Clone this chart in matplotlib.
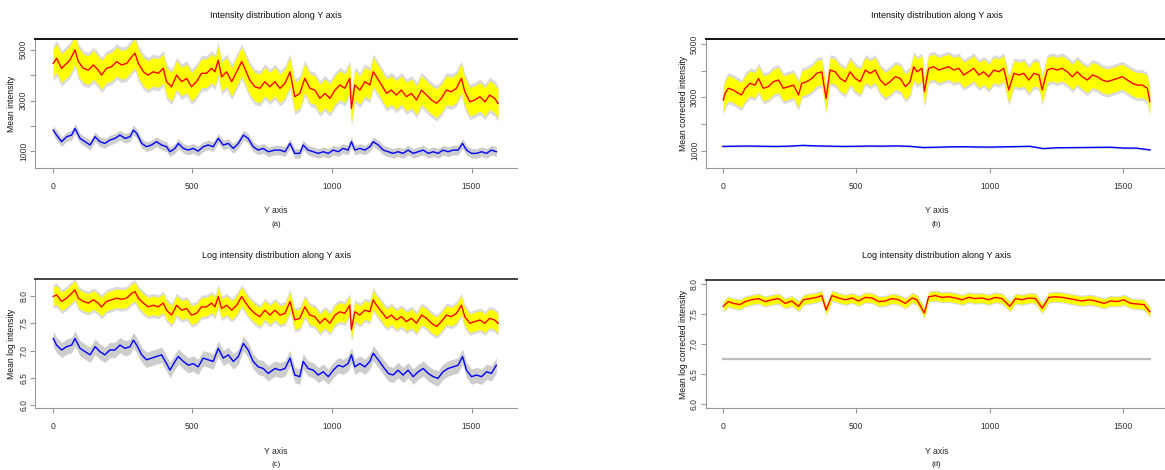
import numpy as np
import matplotlib
matplotlib.use("Agg")
import matplotlib.pyplot as plt

plt.rcParams['font.family'] = ['Liberation Sans Narrow', 'Liberation Sans', 'DejaVu Sans']

# ---------------- data ----------------
# Panel (a): raw intensity
a_red_x = [2, 14, 32, 50, 62, 80, 92, 110, 128, 146, 163, 175, 193, 211, 229, 247, 265, 283, 295, 307,
           325, 342, 360, 378, 396, 408, 426, 444, 462, 480, 497, 515, 533, 551, 569, 581, 593, 605, 623, 641,
           659, 677, 688, 706, 724, 742, 760, 778,
           796, 814, 832, 850, 867, 885, 903, 921, 939, 957, 975, 993, 1011, 1029, 1046, 1064, 1070, 1082, 1100, 1118,
           1136, 1148, 1160, 1178, 1196, 1213, 1231, 1249, 1267, 1285, 1303, 1321, 1339, 1357, 1375, 1392, 1410, 1428,
           1446, 1464, 1476, 1494, 1512, 1530, 1548, 1565, 1583, 1595]
a_red = [4460, 4660, 4265, 4460, 4590, 4990, 4530, 4265, 4200, 4400, 4200, 4000, 4265, 4330, 4530, 4400, 4460, 4720, 4860, 4460,
         4130, 4000, 4130, 4070, 4265, 3740, 3540, 4000, 3740, 3870, 3540, 3740, 4070, 4070, 4265, 4130, 4590, 3930, 4130, 3740,
         4130, 4530, 4265, 3800, 3540, 3480, 3740, 3540,
         3740, 3480, 3675, 4130, 3150, 3280, 3870, 3480, 3410, 3085, 3280, 3085, 3410, 3610, 3480, 3870, 2690, 3610, 3410, 3740,
         3610, 4130, 3930, 3610, 3280, 3410, 3215, 3410, 3150, 3280, 3020, 3410, 3215, 3020, 2890, 3085, 3410, 3345,
         3480, 3870, 3345, 2950, 3020, 3150, 2950, 3215, 3085, 2890]
a_blue_x = [2, 14, 32, 50, 68, 80, 98, 116, 134, 152, 169, 187, 205, 223, 241, 259, 277, 289, 301, 319,
            336, 354, 372, 390, 408, 420, 438, 450, 468, 486, 503, 521, 539, 557, 575, 593, 611, 629, 647, 665,
            683, 700, 718, 736, 754, 772, 796,
            814, 832, 850, 867, 885, 897, 915, 933, 951, 969, 987, 1005, 1023, 1040, 1058, 1070, 1082, 1100, 1118, 1136,
            1148, 1166, 1184, 1202, 1219, 1237, 1255, 1273, 1291, 1309, 1327, 1345, 1363, 1380, 1398, 1416, 1434, 1452,
            1468, 1482, 1500, 1518, 1536, 1554, 1571, 1589]
a_blue = [1838, 1640, 1380, 1575, 1640, 1900, 1510, 1380, 1250, 1575, 1380, 1313, 1445, 1510, 1640, 1510, 1575, 1838, 1707, 1313,
          1182, 1250, 1380, 1250, 1182, 985, 1116, 1313, 1116, 1050, 1116, 1010, 1182, 1250, 1182, 1510, 1250, 1313, 1116, 1313,
          1640, 1510, 1182, 1050, 1116, 985, 1050,
          1050, 985, 1313, 920, 920, 1250, 1050, 985, 920, 985, 920, 1050, 985, 1116, 1050, 1380, 1050, 1116, 1050, 1182,
          1380, 1250, 1050, 985, 920, 985, 920, 1050, 920, 985, 1050, 920, 985, 920, 1050, 985, 1050, 1050,
          1313, 1050, 920, 920, 985, 920, 1050, 985]

# Panel (b): corrected intensity
b_red_x = [2, 9, 21, 40, 59, 71, 84, 102, 121, 134, 152, 171, 190, 209, 227, 246, 265, 284, 296, 315,
           334, 352, 371, 387, 402, 421, 440, 459, 477, 496, 515, 534, 552, 571, 590, 609, 627, 646, 665, 684,
           702, 715, 727, 746, 755, 771, 790, 809, 827, 846, 865, 884, 902, 921, 940, 959, 977, 996, 1015, 1034,
           1052, 1071, 1090, 1109, 1127, 1146, 1165, 1184, 1196, 1215, 1234, 1252, 1271, 1290, 1309, 1327, 1346, 1365,
           1384, 1402, 1421, 1440, 1459, 1477, 1496, 1515, 1534, 1552, 1571, 1590, 1599]
b_red = [2900, 3150, 3340, 3275, 3150, 3090, 3340, 3525, 3460, 3710, 3340, 3400, 3590, 3650, 3340, 3400, 3460, 3090, 3525, 3590,
         3710, 3900, 3960, 2960, 4025, 3960, 3710, 3590, 3960, 3710, 3590, 4025, 3900, 4025, 3650, 3460, 3590, 3775, 3710, 3400,
         3590, 4150, 3960, 4090, 3210, 4090, 4150, 4025, 4090, 4150, 4025, 4090, 3840, 3960, 4090, 3840, 3960, 3775, 4025, 3960,
         4090, 3275, 3900, 3840, 3900, 3650, 3900, 3840, 3275, 4025, 4090, 4025, 4090, 3960, 3775, 3960, 3775, 3650,
         3840, 3775, 3650, 3590, 3650, 3710, 3775, 3650, 3525, 3460, 3460, 3340, 2840]
b_blue_x = [0, 50, 100, 150, 200, 250, 300, 350, 400, 450, 500, 550, 600, 650, 700, 750, 800, 850, 900, 950,
            1000, 1050, 1100, 1150, 1200, 1250, 1300, 1350, 1400, 1450, 1500, 1550, 1600]
b_blue = [1160, 1170, 1175, 1165, 1160, 1170, 1200, 1180, 1170, 1160, 1165, 1175, 1170, 1180, 1165, 1120, 1130, 1145, 1150, 1140,
          1135, 1145, 1155, 1165, 1080, 1110, 1115, 1120, 1125, 1130, 1100, 1095, 1030]

# Panel (c): log intensity
c_red_x = a_red_x
c_red = [7.99, 8.02, 7.90, 7.96, 8.02, 8.11, 7.96, 7.90, 7.87, 7.93, 7.87, 7.80, 7.90, 7.93, 7.96, 7.94, 7.96, 8.05, 8.08, 7.96,
         7.87, 7.80, 7.83, 7.80, 7.87, 7.74, 7.65, 7.83, 7.74, 7.77, 7.65, 7.68, 7.80, 7.80, 7.87, 7.80, 7.99, 7.77, 7.83, 7.74,
         7.83, 7.99, 7.90, 7.77, 7.68, 7.62, 7.74, 7.65,
         7.74, 7.65, 7.68, 7.90, 7.56, 7.59, 7.80, 7.65, 7.62, 7.50, 7.59, 7.50, 7.65, 7.71, 7.68, 7.83, 7.38, 7.71, 7.65, 7.74,
         7.71, 7.93, 7.83, 7.71, 7.59, 7.65, 7.56, 7.62, 7.53, 7.59, 7.50, 7.65, 7.59, 7.50, 7.44, 7.53, 7.65, 7.62,
         7.68, 7.83, 7.62, 7.50, 7.53, 7.56, 7.50, 7.59, 7.56, 7.50]
c_blue_x = a_blue_x
c_blue = [7.22, 7.10, 7.01, 7.07, 7.10, 7.22, 7.04, 6.98, 6.92, 7.07, 6.98, 6.92, 7.01, 7.01, 7.10, 7.04, 7.07, 7.19, 7.10, 6.92,
          6.83, 6.86, 6.89, 6.92, 6.76, 6.64, 6.80, 6.89, 6.80, 6.73, 6.76, 6.70, 6.86, 6.83, 6.80, 7.04, 6.86, 6.92, 6.80, 6.89,
          7.13, 7.01, 6.80, 6.70, 6.67, 6.58, 6.67,
          6.64, 6.67, 6.86, 6.55, 6.52, 6.80, 6.67, 6.64, 6.55, 6.61, 6.52, 6.64, 6.73, 6.70, 6.76, 6.92, 6.70, 6.76, 6.70, 6.80,
          6.95, 6.83, 6.70, 6.58, 6.55, 6.64, 6.55, 6.64, 6.52, 6.61, 6.67, 6.58, 6.52, 6.49, 6.61, 6.67, 6.70, 6.73,
          6.89, 6.64, 6.52, 6.55, 6.52, 6.61, 6.58, 6.73]

# Panel (d): log corrected intensity
d_red_x = [2, 21, 40, 65, 84, 109, 134, 159, 184, 209, 234, 259, 284, 302, 327, 352, 371, 387, 409, 434,
           459, 484, 509, 534, 559, 584, 609, 634, 659, 684, 709, 727, 755, 771, 796, 821, 846, 871, 896, 921,
           946, 971, 996, 1021, 1046, 1075, 1096, 1121, 1146, 1171, 1196, 1221, 1246, 1271, 1296, 1321, 1346, 1371,
           1396, 1428, 1452, 1477, 1502, 1527, 1552, 1577, 1599]
d_red = [7.63, 7.71, 7.68, 7.66, 7.71, 7.74, 7.76, 7.71, 7.74, 7.76, 7.68, 7.72, 7.63, 7.74, 7.76, 7.78, 7.81, 7.57, 7.81, 7.77,
         7.74, 7.77, 7.72, 7.78, 7.77, 7.71, 7.72, 7.76, 7.74, 7.68, 7.77, 7.74, 7.52, 7.79, 7.81, 7.78, 7.79, 7.77, 7.74, 7.78,
         7.76, 7.77, 7.74, 7.78, 7.76, 7.63, 7.76, 7.74, 7.77, 7.76, 7.60, 7.78, 7.79, 7.78, 7.76, 7.74, 7.72, 7.74,
         7.72, 7.68, 7.72, 7.71, 7.74, 7.68, 7.67, 7.66, 7.54]
d_blue_x = [0, 1600]
d_blue = [6.76, 6.76]

# spreads (half widths) of the bands
spread_yellow = {'a': 560, 'b': 470, 'c': 0.17, 'd': 0.075}
spread_gray_up = {'a': 700, 'b': 580, 'c': 0.22, 'd': 0.095}
spread_gray_low = {'a': 190, 'b': 35, 'c': 0.14, 'd': 0.0}

titles = ["Intensity distribution along Y axis", "Intensity distribution along Y axis",
          "Log intensity distribution along Y axis", "Log intensity distribution along Y axis"]
ylabels = ["Mean intensity", "Mean corrected intensity", "Mean log intensity", "Mean log corrected intensity"]
sublabels = ["(a)", "(b)", "(c)", "(d)"]
xticks = [0, 500, 1000, 1500]
yticks_raw = [1000, 2000, 3000, 4000, 5000]
yticklabels_raw = ["1000", "", "3000", "", "5000"]
yticks_log = [6.0, 6.5, 7.0, 7.5, 8.0]
yticklabels_log = ["6.0", "6.5", "7.0", "7.5", "8.0"]

# ---------------- figure ----------------
W, H = 1165, 470
fig = plt.figure(figsize=(W / 100, H / 100), dpi=100)

def px_axes(l, r, t, b):
    return fig.add_axes([l / W, 1 - b / H, (r - l) / W, (b - t) / H])

boxes = {'a': (34.8, 517.3, 39, 168), 'b': (705.6, 1167.2, 39, 168),
         'c': (34.8, 517.3, 279.3, 408.3), 'd': (705.6, 1167.2, 280, 408.3)}
ylims = {'a': (345, 5420), 'b': (350, 5190), 'c': (5.94, 8.306), 'd': (5.93, 8.07)}
series = {'a': (a_red_x, a_red, a_blue_x, a_blue), 'b': (b_red_x, b_red, b_blue_x, b_blue),
          'c': (c_red_x, c_red, c_blue_x, c_blue), 'd': (d_red_x, d_red, d_blue_x, d_blue)}

FS = 6.2
axis_gray = '#9a9a9a'
for i, key in enumerate(['a', 'b', 'c', 'd']):
    l, r, t, b = boxes[key]
    ax = px_axes(l, r, t, b)
    rx, ry, bx, by = series[key]
    rx = np.array(rx, float); ry = np.array(ry, float)
    bx = np.array(bx, float); by = np.array(by, float)

    # lower series: gray spread + blue mean
    if spread_gray_low[key] > 0:
        ax.fill_between(bx, by - spread_gray_low[key], by + spread_gray_low[key],
                        color='#cdcdcd', lw=0, zorder=1)
        ax.plot(bx, by, color='#0000ff', lw=1.0, zorder=3)
    else:
        ax.plot(bx, by, color='#bdbdbd', lw=1.6, zorder=3)

    # upper series: gray, yellow, red
    ax.fill_between(rx, ry - spread_gray_up[key], ry + spread_gray_up[key],
                    color='#dadada', lw=0, zorder=1)
    ax.fill_between(rx, ry - spread_yellow[key], ry + spread_yellow[key],
                    color='#ffff00', lw=0, zorder=2)
    ax.plot(rx, ry, color='#ff0000', lw=1.0, zorder=3)

    ax.set_xlim(-64, 1664)
    ax.set_ylim(*ylims[key])
    ax.set_xticks(xticks)
    ax.set_xticklabels([str(v) for v in xticks])
    if key in ('a', 'b'):
        ax.set_yticks(yticks_raw)
        ax.set_yticklabels(yticklabels_raw)
    else:
        ax.set_yticks(yticks_log)
        ax.set_yticklabels(yticklabels_log)
    for lab in ax.get_yticklabels():
        lab.set_rotation(90)
        lab.set_va('center')
    ax.tick_params(axis='both', direction='out', length=3.6, width=0.8, color=axis_gray,
                   labelsize=FS, labelcolor='#333333')
    ax.tick_params(axis='x', pad=6.5)
    ax.tick_params(axis='y', pad=1.2)
    ax.spines['right'].set_visible(False)
    ax.spines['top'].set_color('#111111' if key in ('a', 'b') else '#444444')
    ax.spines['top'].set_linewidth(1.4)
    ax.spines['left'].set_color(axis_gray)
    ax.spines['bottom'].set_color(axis_gray)
    ax.spines['left'].set_linewidth(0.8)
    ax.spines['bottom'].set_linewidth(0.8)

    cx = (l + r) / 2
    ty = 15 if key in ('a', 'b') else 255.5
    fig.text(cx / W, 1 - ty / H, titles[i], ha='center', va='center', fontsize=FS + 0.3, color='#111111')
    xl_y = 211 if key in ('a', 'b') else 451
    fig.text(cx / W, 1 - xl_y / H, "Y axis", ha='center', va='center', fontsize=FS, color='#222222')
    fig.text(cx / W, 1 - (xl_y + 13) / H, sublabels[i], ha='center', va='center', fontsize=FS - 0.5, color='#222222')
    ylx = 11.7 if key in ('a', 'c') else 683
    fig.text(ylx / W, 1 - ((t + b) / 2) / H, ylabels[i], ha='center', va='center', rotation=90,
             fontsize=FS, color='#111111')

fig.savefig("out.png", dpi=100)
